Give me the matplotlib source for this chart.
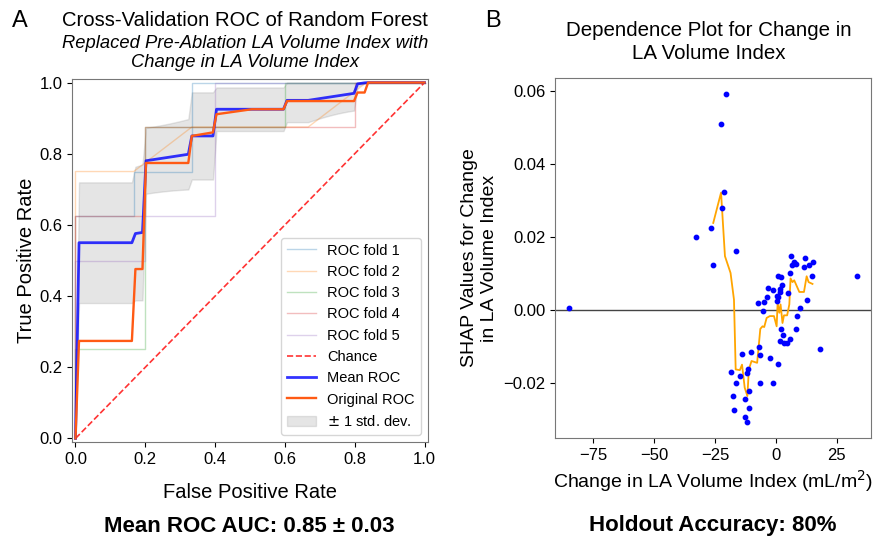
import numpy as np
import matplotlib
matplotlib.use("Agg")
import matplotlib.pyplot as plt

plt.rcParams['font.family'] = ['Liberation Sans', 'DejaVu Sans']

# ---------------- panel A data: fold ROC curves ----------------
fold_fpr = [
    [0.0, 0.0, 0.1667, 0.1667, 0.3333, 0.3333, 1.0],
    [0.0, 0.0, 0.1667, 0.3333, 0.6667, 0.8333, 1.0],
    [0.0, 0.0, 0.2, 0.2, 0.6, 0.6, 1.0],
    [0.0, 0.0, 0.2, 0.2, 0.8, 0.8, 1.0],
    [0.0, 0.0, 0.2, 0.2, 0.4, 0.4, 1.0],
]
fold_tpr = [
    [0.0, 0.625, 0.625, 0.75, 0.75, 1.0, 1.0],
    [0.0, 0.75, 0.75, 0.875, 0.875, 1.0, 1.0],
    [0.0, 0.25, 0.25, 0.875, 0.875, 1.0, 1.0],
    [0.0, 0.625, 0.625, 0.875, 0.875, 1.0, 1.0],
    [0.0, 0.5, 0.5, 0.625, 0.625, 1.0, 1.0],
]

# original ROC
orig_fpr = [0.0, 0.0101, 0.1616, 0.1717, 0.1919, 0.2020, 0.3232, 0.3333, 0.3939,
            0.4040, 0.5051, 0.5960, 0.6061, 0.7980, 0.8081, 0.8283, 0.8384, 1.0]
orig_tpr = [0.0, 0.274, 0.274, 0.476, 0.476, 0.774, 0.774, 0.85, 0.86,
            0.911, 0.925, 0.925, 0.948, 0.948, 0.972, 0.972, 1.0, 1.0]

# ---------------- panel B data: SHAP dependence ----------------
shap_x = [-84.7, -20.6, -22.5, -21.2, -22.3, -32.8, -26.8, -25.7, -16.5, 6.0,
          11.9, 15.3, 13.5, 11.5, 7.5, 8.2, 6.7, 5.7, 14.9, 33.1,
          0.7, 2.2, 2.6, -3.4, -1.4, 1.6, 1.8, 4.8, 0.3, 1.0,
          -3.8, 0.3, -4.9, -7.4, 12.6, -5.5, 9.7, 8.5, 2.2, 8.3,
          2.7, 1.6, 3.3, 4.4, 5.6, 18.0, -7.0, -6.6, -14.1, -10.1,
          -2.3, 0.7, -11.3, -18.4, -12.0, -14.6, -16.4, -6.4, -1.0, -11.1,
          -17.5, -12.6, -17.1, -11.2, -12.7, -11.9]
shap_y = [0.0006, 0.059, 0.0508, 0.0324, 0.028, 0.0199, 0.0224, 0.0124, 0.016, 0.0148,
          0.0141, 0.0132, 0.0124, 0.0117, 0.013, 0.0126, 0.0123, 0.0101, 0.0093, 0.0092,
          0.0094, 0.009, 0.0069, 0.006, 0.0054, 0.0056, 0.0049, 0.0047, 0.0039, 0.0036,
          0.0035, 0.0023, 0.0021, 0.0019, 0.0026, -0.0004, 0.0005, -0.0017, -0.0052, -0.0052,
          -0.007, -0.0086, -0.0092, -0.009, -0.0081, -0.0107, -0.0101, -0.0124, -0.0122, -0.0115,
          -0.0132, -0.0147, -0.0161, -0.017, -0.0173, -0.0181, -0.0199, -0.0201, -0.02, -0.0223,
          -0.0236, -0.0243, -0.0274, -0.027, -0.0293, -0.0306]

trend_x = [-25.7, -22.5, -20.9, -18.6, -17.2, -16.5, -14.8, -13.9, -12.8, -11.7,
           -11.1, -10.0, -7.7, -6.4, -5.5, -4.8, -3.8, -2.5, -0.8, 0.3,
           0.7, 1.4, 1.9, 2.7, 3.3, 4.6, 5.5, 6.0, 6.8, 7.5,
           9.6, 11.5, 12.6, 13.4, 15.0]
trend_y = [0.0238, 0.0321, 0.0147, 0.0101, 0.0028, -0.0163, -0.0165, -0.015, -0.0213, -0.0236,
           -0.0163, -0.014, -0.0145, -0.0052, -0.0045, -0.0047, -0.0022, -0.0017, -0.0017, -0.0045,
           0.0019, -0.0008, 0.0015, -0.0036, -0.0015, -0.0015, 0.0015, 0.0086, 0.0076, 0.0081,
           0.0049, 0.0049, 0.0092, 0.0076, 0.0071]

fig = plt.figure(figsize=(8.92, 5.41), dpi=100)
W, H = 892, 541
ax1 = fig.add_axes([72 / W, 1 - 442 / H, (428 - 72) / W, (442 - 79) / H])
ax2 = fig.add_axes([555 / W, 1 - 438 / H, (871 - 555) / W, (438 - 78) / H])

# ---- panel A ----
mean_fpr = np.linspace(0, 1, 100)
tprs = []
for i in range(len(fold_fpr)):
    ax1.plot(fold_fpr[i], fold_tpr[i], lw=1, alpha=0.3, label='ROC fold %d' % (i + 1))
    t = np.interp(mean_fpr, fold_fpr[i], fold_tpr[i])
    t[0] = 0.0
    tprs.append(t)

ax1.plot([0, 1], [0, 1], linestyle='--', lw=1.2, color='r', alpha=0.8, label='Chance')
mean_tpr = np.mean(tprs, axis=0)
mean_tpr[-1] = 1.0
ax1.plot(mean_fpr, mean_tpr, color='b', lw=2, alpha=0.8, label='Mean ROC')
ax1.plot(orig_fpr, orig_tpr, color='#ff5a14', lw=1.7, label='Original ROC')
std_tpr = np.std(tprs, axis=0)
upper = np.minimum(mean_tpr + std_tpr, 1)
lower = np.maximum(mean_tpr - std_tpr, 0)
ax1.fill_between(mean_fpr, lower, upper, color='grey', alpha=0.2, label=r'$\pm$ 1 std. dev.')

ax1.set_xlim(-0.01, 1.01)
ax1.set_ylim(-0.01, 1.01)
ax1.set_xlabel('False Positive Rate', fontsize=14.5, labelpad=12)
ax1.set_ylabel('True Positive Rate', fontsize=14.5, labelpad=2)
ax1.tick_params(labelsize=12)
ax1.legend(loc='lower right', fontsize=10.5)

# ---- panel B ----
ax2.scatter(shap_x, shap_y, s=10, color='b', zorder=3)
ax2.plot(trend_x, trend_y, color='orange', lw=1.3, zorder=2)
ax2.axhline(0, color='#444444', lw=1, zorder=1)
ax2.set_xlabel('Change in LA Volume Index (mL/m$^2$)', fontsize=14)
ax2.set_ylabel('SHAP Values for Change\nin LA Volume Index', fontsize=14)
ax2.tick_params(labelsize=12)

for ax in (ax1, ax2):
    for sp in ax.spines.values():
        sp.set_color('#777777')

# titles and labels
fig.text(245 / W, 1 - 20 / H, 'Cross-Validation ROC of Random Forest', ha='center', va='center', fontsize=14.6)
fig.text(245 / W, 1 - 53 / H, 'Replaced Pre-Ablation LA Volume Index with\nChange in LA Volume Index',
         ha='center', va='center', fontsize=13.2, style='italic', linespacing=1.2)
fig.text(709 / W, 1 - 42 / H, 'Dependence Plot for Change in\nLA Volume Index',
         ha='center', va='center', fontsize=14.8, linespacing=1.25)
fig.text(20 / W, 1 - 21 / H, 'A', ha='center', va='center', fontsize=17)
fig.text(493 / W, 1 - 21 / H, 'B', ha='center', va='center', fontsize=17)
fig.text(249 / W, 1 - 527 / H, 'Mean ROC AUC: 0.85 ± 0.03', ha='center', va='center',
         fontsize=16, fontweight='bold')
fig.text(713 / W, 1 - 525 / H, 'Holdout Accuracy: 80%', ha='center', va='center',
         fontsize=16, fontweight='bold')

plt.savefig('out.png', dpi=100)
